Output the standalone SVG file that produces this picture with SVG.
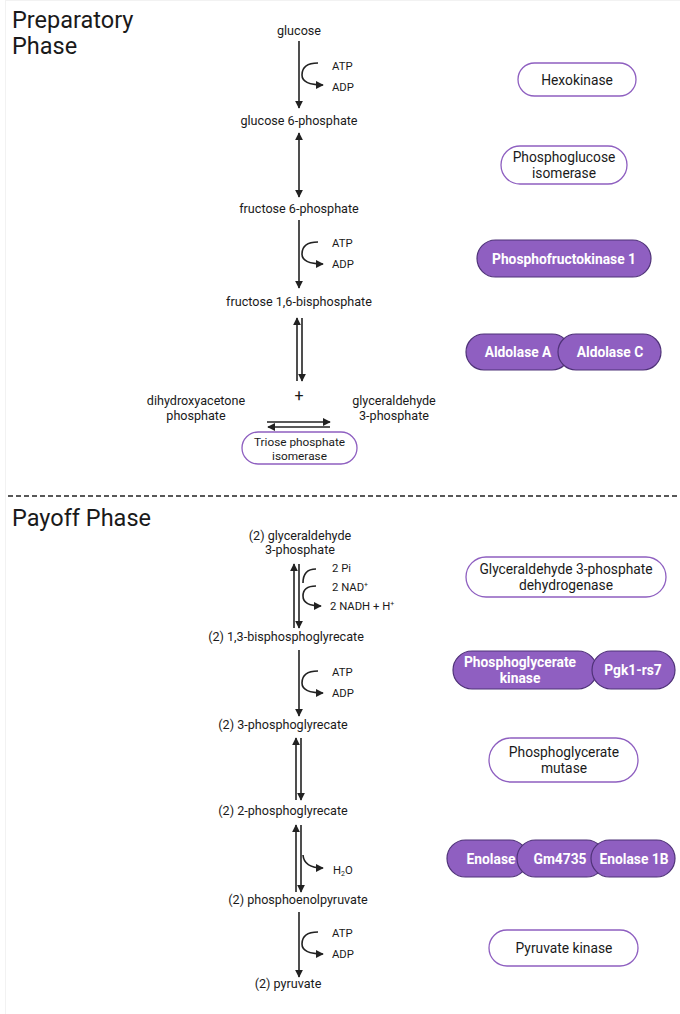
<svg xmlns="http://www.w3.org/2000/svg" width="680" height="1014" viewBox="0 0 680 1014">
<defs>
<style>
text{font-family:Roboto,"Liberation Sans",sans-serif;fill:#1a1a1a}
.t{font-size:12.6px;text-anchor:middle}
.s{font-size:11.3px}
.h{font-size:23.5px}
.e{font-size:13.8px;text-anchor:middle}
.es{font-size:11.8px;text-anchor:middle}
.ew{font-size:13.8px;text-anchor:middle;font-weight:bold;fill:#fff}
.sup{font-size:7px}
.ln{stroke:#222;stroke-width:1.6;fill:none}
.po{fill:#fff;stroke:#8e5fc0;stroke-width:1.3}
.pf{fill:#8f5fc1;stroke:#4f3278;stroke-width:1.2}
</style>
<marker id="ah" viewBox="0 0 10 10" refX="9" refY="5" markerWidth="5" markerHeight="5" orient="auto-start-reverse">
<path d="M0,0 L10,5 L0,10 z" fill="#222"/>
</marker>
</defs>
<rect x="5.5" y="0.5" width="680" height="1020" fill="none" stroke="#f2f2f2"/>
<text class="h" x="12" y="28">Preparatory</text>
<text class="h" x="12" y="54">Phase</text>
<text class="h" x="12" y="526">Payoff Phase</text>
<line x1="8" y1="496" x2="680" y2="496" stroke="#222" stroke-width="1.3" stroke-dasharray="5 3"/>

<g id="connectors">
<line class="ln" x1="299" y1="41" x2="299" y2="108" marker-end="url(#ah)"/>
<path class="ln" d="M318,63 Q302,63 302,75 Q302,85 323,85" marker-end="url(#ah)"/>
<line class="ln" x1="299" y1="133" x2="299" y2="197" marker-start="url(#ah)" marker-end="url(#ah)"/>
<line class="ln" x1="299" y1="220" x2="299" y2="288" marker-end="url(#ah)"/>
<path class="ln" d="M318,242 Q302,242 302,254 Q302,264 323,264" marker-end="url(#ah)"/>
<line class="ln" x1="297" y1="381" x2="297" y2="318" marker-end="url(#ah)"/>
<line class="ln" x1="302" y1="318" x2="302" y2="381" marker-end="url(#ah)"/>
<line class="ln" x1="267" y1="422" x2="330" y2="422" marker-end="url(#ah)"/>
<line class="ln" x1="330" y1="427" x2="268" y2="427" marker-end="url(#ah)"/>
<line class="ln" x1="294" y1="628" x2="294" y2="564" marker-end="url(#ah)"/>
<line class="ln" x1="299" y1="564" x2="299" y2="628" marker-end="url(#ah)"/>
<path class="ln" d="M316,569 Q303,569 303,583"/>
<path class="ln" d="M316,586 Q303,586 303,596 Q303,606 321,606" marker-end="url(#ah)"/>
<line class="ln" x1="299" y1="650" x2="299" y2="716" marker-end="url(#ah)"/>
<path class="ln" d="M318,671 Q302,671 302,683 Q302,693 323,693" marker-end="url(#ah)"/>
<line class="ln" x1="296" y1="800" x2="296" y2="738" marker-end="url(#ah)"/>
<line class="ln" x1="301" y1="738" x2="301" y2="800" marker-end="url(#ah)"/>
<line class="ln" x1="296" y1="892" x2="296" y2="825" marker-end="url(#ah)"/>
<line class="ln" x1="301" y1="825" x2="301" y2="892" marker-end="url(#ah)"/>
<path class="ln" d="M303,855 Q304,868 323,868" marker-end="url(#ah)"/>
<line class="ln" x1="299" y1="912" x2="299" y2="977" marker-end="url(#ah)"/>
<path class="ln" d="M318,932 Q302,932 302,944 Q302,954 323,954" marker-end="url(#ah)"/>
</g>

<g id="cofactors">
<text class="s" x="332" y="70">ATP</text>
<text class="s" x="332" y="91">ADP</text>
<text class="s" x="332" y="247">ATP</text>
<text class="s" x="332" y="268">ADP</text>
<text class="s" x="332" y="572">2 Pi</text>
<text class="s" x="332" y="591">2 NAD<tspan class="sup" dy="-4">+</tspan></text>
<text class="s" x="330" y="610">2 NADH + H<tspan class="sup" dy="-4">+</tspan></text>
<text class="s" x="332" y="676">ATP</text>
<text class="s" x="332" y="697">ADP</text>
<text class="s" x="333" y="874">H<tspan class="sup" dy="2">2</tspan><tspan dy="-2">O</tspan></text>
<text class="s" x="332" y="937">ATP</text>
<text class="s" x="332" y="958">ADP</text>
</g>

<g id="metabolites">
<text class="t" x="299" y="35">glucose</text>
<text class="t" x="299" y="125">glucose 6-phosphate</text>
<text class="t" x="299" y="213">fructose 6-phosphate</text>
<text class="t" x="299" y="306">fructose 1,6-bisphosphate</text>
<text class="t" x="299" y="401" style="font-size:16px">+</text>
<text class="t" x="196" y="405">dihydroxyacetone</text>
<text class="t" x="196" y="420">phosphate</text>
<text class="t" x="394" y="405">glyceraldehyde</text>
<text class="t" x="394" y="420">3-phosphate</text>
<text class="t" x="300" y="540">(2) glyceraldehyde</text>
<text class="t" x="300" y="554">3-phosphate</text>
<text class="t" x="286" y="641">(2) 1,3-bisphosphoglyrecate</text>
<text class="t" x="283" y="729">(2) 3-phosphoglyrecate</text>
<text class="t" x="283" y="815">(2) 2-phosphoglyrecate</text>
<text class="t" x="298" y="904">(2) phosphoenolpyruvate</text>
<text class="t" x="288" y="988">(2) pyruvate</text>
</g>

<g id="triose-phosphate-isomerase">
<rect class="po" x="242" y="432" width="115" height="32" rx="16"/>
<text class="es" x="299.5" y="446">Triose phosphate</text>
<text class="es" x="299.5" y="459.5">isomerase</text>
</g>
<g id="hexokinase">
<rect class="po" x="518" y="63" width="118" height="33" rx="16.5"/>
<text class="e" x="577" y="84.5">Hexokinase</text>
</g>
<g id="phosphoglucose-isomerase">
<rect class="po" x="501" y="146" width="126" height="38" rx="19"/>
<text class="e" x="564" y="162">Phosphoglucose</text>
<text class="e" x="564" y="178">isomerase</text>
</g>
<g id="phosphofructokinase">
<rect class="pf" x="477" y="240" width="174" height="37" rx="18.5"/>
<text class="ew" x="564" y="263.5">Phosphofructokinase 1</text>
</g>
<g id="aldolase-a">
<rect class="pf" x="466" y="334" width="104" height="36" rx="18"/>
<text class="ew" x="518" y="357">Aldolase A</text>
</g>
<g id="aldolase-c">
<rect class="pf" x="558" y="334" width="103" height="36" rx="18"/>
<text class="ew" x="610" y="357">Aldolase C</text>
</g>
<g id="gapdh">
<rect class="po" x="466" y="557" width="200" height="40" rx="20"/>
<text class="e" x="566" y="574">Glyceraldehyde 3-phosphate</text>
<text class="e" x="566" y="590">dehydrogenase</text>
</g>
<g id="phosphoglycerate-kinase">
<rect class="pf" x="453" y="651" width="144" height="38" rx="19"/>
<text class="ew" x="520" y="667">Phosphoglycerate</text>
<text class="ew" x="520" y="683">kinase</text>
</g>
<g id="pgk1-rs7">
<rect class="pf" x="592" y="651" width="83" height="38" rx="19"/>
<text class="ew" x="633" y="674.5">Pgk1-rs7</text>
</g>
<g id="phosphoglycerate-mutase">
<rect class="po" x="489" y="738" width="149" height="44" rx="22"/>
<text class="e" x="564" y="757">Phosphoglycerate</text>
<text class="e" x="564" y="773">mutase</text>
</g>
<g id="enolase">
<rect class="pf" x="447" y="840" width="81" height="37" rx="18.5"/>
<text class="ew" x="491" y="863.5">Enolase</text>
</g>
<g id="gm4735">
<rect class="pf" x="517" y="840" width="88" height="37" rx="18.5"/>
<text class="ew" x="560" y="863.5">Gm4735</text>
</g>
<g id="enolase-1b">
<rect class="pf" x="591" y="840" width="84" height="37" rx="18.5"/>
<text class="ew" x="634" y="863.5">Enolase 1B</text>
</g>
<g id="pyruvate-kinase">
<rect class="po" x="489" y="930" width="149" height="36" rx="18"/>
<text class="e" x="564" y="952.5">Pyruvate kinase</text>
</g>
</svg>
